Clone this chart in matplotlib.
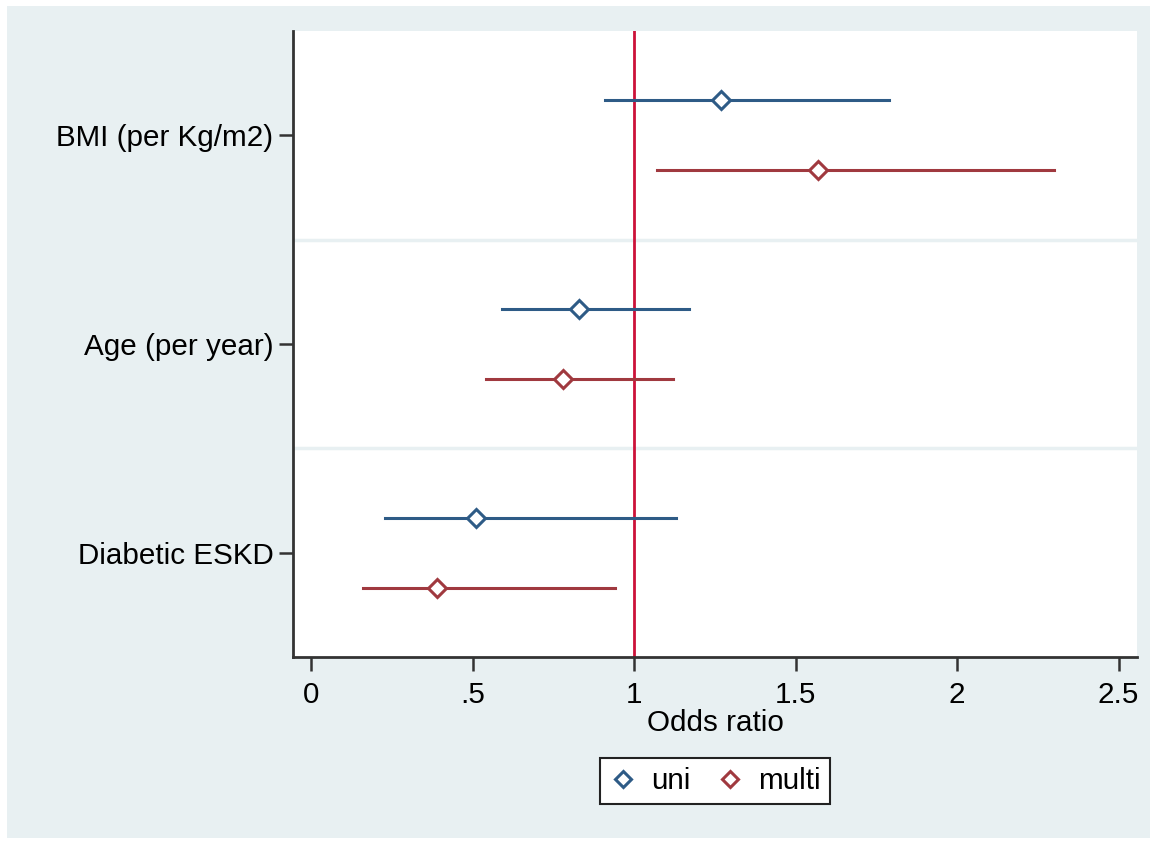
import matplotlib
matplotlib.use("Agg")
import matplotlib.pyplot as plt
from matplotlib.patches import Rectangle
from matplotlib.lines import Line2D

plt.rcParams['font.family'] = ['Liberation Sans', 'DejaVu Sans']

# data (odds ratio, 95% CI)
labels = ['BMI (per Kg/m2)', 'Age (per year)', 'Diabetic ESKD']
uni_or = [1.27, 0.83, 0.51]
uni_lo = [0.91, 0.59, 0.23]
uni_hi = [1.79, 1.17, 1.13]
multi_or = [1.57, 0.78, 0.39]
multi_lo = [1.07, 0.54, 0.16]
multi_hi = [2.30, 1.12, 0.94]
xticks = [0, 0.5, 1, 1.5, 2, 2.5]
xticklabels = ['0', '.5', '1', '1.5', '2', '2.5']

blue = '#2e5b86'
maroon = '#a0393f'
bg = '#e8f0f2'

fig = plt.figure(figsize=(11.57, 8.43), dpi=100, facecolor='white')
fig.patches.append(Rectangle((7 / 1157, 1 - 838 / 843), (1150 - 7) / 1157, (838 - 6) / 843,
                             transform=fig.transFigure, facecolor=bg, edgecolor='none', zorder=-10))

ax = fig.add_axes([293 / 1157, 1 - 657 / 843, (1137 - 293) / 1157, (657 - 31) / 843])
ax.set_facecolor('white')

ypos = list(range(1, len(labels) + 1))
off = 0.167

for i, y in enumerate(ypos):
    ax.plot([uni_lo[i], uni_hi[i]], [y - off, y - off], color=blue, lw=2.2, zorder=3)
    ax.plot(uni_or[i], y - off, marker='D', ms=9, mfc='white', mec=blue, mew=2.2, zorder=4)
    ax.plot([multi_lo[i], multi_hi[i]], [y + off, y + off], color=maroon, lw=2.2, zorder=3)
    ax.plot(multi_or[i], y + off, marker='D', ms=9, mfc='white', mec=maroon, mew=2.2, zorder=4)

# separators between groups
for y in ypos[:-1]:
    ax.axhline(y + 0.5, color=bg, lw=2.5, zorder=1)

ax.axvline(1, color='#cc1239', lw=2, zorder=2)

ax.set_xlim(-0.056, 2.557)
ax.set_ylim(3.5, 0.5)
ax.set_yticks(ypos)
ax.set_yticklabels(labels, fontsize=21.3)
ax.set_xticks(xticks)
ax.set_xticklabels(xticklabels, fontsize=21.3)
ax.set_xlabel('Odds ratio', fontsize=21.3, labelpad=0)

for s in ['top', 'right']:
    ax.spines[s].set_visible(False)
for s in ['left', 'bottom']:
    ax.spines[s].set_linewidth(2)
    ax.spines[s].set_color('#333333')
ax.tick_params(axis='both', length=10, width=1.8, color='#333333', pad=7)
ax.tick_params(axis='y', pad=4)

handles = [Line2D([], [], ls='none', marker='D', ms=8, mfc='white', mec=blue, mew=2.2),
           Line2D([], [], ls='none', marker='D', ms=8, mfc='white', mec=maroon, mew=2.2)]
leg = fig.legend(handles, ['uni', 'multi'], loc='center', bbox_to_anchor=(715 / 1157, 1 - 781 / 843),
                 ncol=2, fontsize=21.3, frameon=True, fancybox=False, edgecolor='#222222',
                 facecolor='white', framealpha=1,
                 handletextpad=0.5, columnspacing=0.9, borderpad=0.3, borderaxespad=0,
                 handlelength=0.9)
leg.get_frame().set_linewidth(1.5)

fig.savefig('out.png', dpi=100, facecolor='white')
